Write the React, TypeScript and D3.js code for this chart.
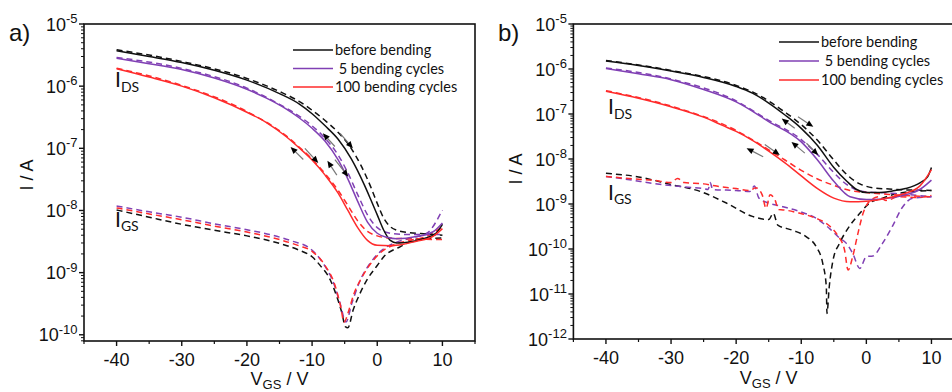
import React from 'react';
import * as d3 from 'd3';

type Pt = [number, number];
type Arrow = [number, number, number, number];

// ---------- Panel a ----------
const aIdsBeforeFwd: Pt[] = [[-40,3.7e-6],[-35,3.0e-6],[-30,2.4e-6],[-25,1.8e-6],[-20,1.25e-6],[-15,7.6e-7],[-12,5.2e-7],[-10,3.6e-7],[-8,2.3e-7],[-6,1.4e-7],[-4,6.8e-8],[-2,2.6e-8],[-1,1.5e-8],[0,8.5e-9],[1,4.8e-9],[2,3.3e-9],[3,3.0e-9],[5,3.1e-9],[7,3.5e-9],[9,4.3e-9],[10,6.0e-9]];
const aIdsBeforeRev: Pt[] = [[-40,3.85e-6],[-30,2.5e-6],[-20,1.33e-6],[-15,8.2e-7],[-12,5.7e-7],[-10,4.1e-7],[-8,2.8e-7],[-6,1.8e-7],[-4,1.0e-7],[-2.5,5.3e-8],[-1,2.4e-8],[0,1.3e-8],[1,7.5e-9],[2,5.5e-9],[3,4.8e-9],[5,4.4e-9],[7.5,4.2e-9],[10,4.0e-9]];
const aIgsBefore: Pt[] = [[-40,1.02e-8],[-35,7.8e-9],[-30,6.0e-9],[-25,4.8e-9],[-20,3.9e-9],[-15,2.95e-9],[-12,2.3e-9],[-10,1.8e-9],[-8.8,1.32e-9],[-7.2,7.6e-10],[-6.2,4.1e-10],[-5.4,2.2e-10],[-4.9,1.35e-10],[-4.5,1.3e-10],[-3.7,2.5e-10],[-2.7,4.5e-10],[-1.6,7.6e-10],[0,1.3e-9],[1,1.8e-9],[3.5,2.6e-9],[6.5,3.5e-9],[10,3.6e-9]];

const aIdsFiveFwd: Pt[] = [[-40,2.8e-6],[-35,2.3e-6],[-30,1.85e-6],[-25,1.35e-6],[-20,8.9e-7],[-17,6.4e-7],[-14,4.3e-7],[-12,3.1e-7],[-10,2.1e-7],[-8,1.3e-7],[-6,6.5e-8],[-4.5,3.2e-8],[-3,1.4e-8],[-1.5,6.5e-9],[0,4.3e-9],[1.5,3.7e-9],[3,3.5e-9],[6,3.8e-9],[8.5,4.5e-9],[10,6.3e-9]];
const aIdsFiveRev: Pt[] = [[-40,2.9e-6],[-30,1.93e-6],[-20,9.3e-7],[-15,5.1e-7],[-12,3.3e-7],[-10,2.3e-7],[-8,1.45e-7],[-6,7.8e-8],[-4.5,4.0e-8],[-3,1.8e-8],[-1.5,8.5e-9],[0,5.3e-9],[2,4.3e-9],[5,4.1e-9],[10,4.1e-9]];
const aIgsFive: Pt[] = [[-40,1.18e-8],[-35,9.5e-9],[-30,7.8e-9],[-25,6.1e-9],[-20,4.9e-9],[-16.5,4.1e-9],[-13,3.2e-9],[-10.3,2.45e-9],[-8.3,1.41e-9],[-6.7,6.8e-10],[-5.7,3.2e-10],[-4.8,1.6e-10],[-3.9,3.2e-10],[-2.6,7.6e-10],[-1.1,1.41e-9],[0.5,2.2e-9],[2.5,2.95e-9],[5,3.55e-9],[7.6,4.3e-9],[10,1.02e-8]];

const aIdsHundredFwd: Pt[] = [[-40,1.9e-6],[-35,1.4e-6],[-30,1.0e-6],[-25,6.5e-7],[-20,3.8e-7],[-17,2.6e-7],[-14,1.55e-7],[-12,1.02e-7],[-10,6.5e-8],[-8,3.7e-8],[-6,1.9e-8],[-4.5,1.0e-8],[-3,5.3e-9],[-1.5,3.3e-9],[0,2.75e-9],[2,2.7e-9],[4,2.85e-9],[6,3.2e-9],[8.5,3.8e-9],[10,5.1e-9]];
const aIdsHundredRev: Pt[] = [[-40,1.95e-6],[-30,1.03e-6],[-20,3.9e-7],[-14,1.6e-7],[-12,1.05e-7],[-10,6.7e-8],[-8,3.9e-8],[-6,2.1e-8],[-4.5,1.2e-8],[-3,6.8e-9],[-1.5,4.6e-9],[0,3.9e-9],[2,3.6e-9],[5,3.5e-9],[10,3.4e-9]];
const aIgsHundred: Pt[] = [[-40,1.1e-8],[-35,8.8e-9],[-30,7.1e-9],[-25,5.6e-9],[-20,4.5e-9],[-15,3.4e-9],[-12,2.7e-9],[-10,2.2e-9],[-8,1.3e-9],[-6.5,6.3e-10],[-5.6,2.8e-10],[-5.1,1.6e-10],[-4.4,2.4e-10],[-3.6,4.5e-10],[-2.5,7.9e-10],[-1,1.4e-9],[0.5,2.1e-9],[2.5,2.8e-9],[5,3.3e-9],[7.5,3.8e-9],[10,5.5e-9]];

const aArrows: Arrow[] = [[-11.35,6.6e-8,-13.3,1.05e-7],[-11.1,1.0e-7,-9.05,5.8e-8],[-6.2,3.7e-8,-7.65,6.3e-8],[-6.5,6.6e-8,-4.45,3.5e-8],[-6.5,1.07e-7,-8.35,1.74e-7],[-5.7,1.74e-7,-3.75,1.0e-7]];

// ---------- Panel b ----------
const bIdsBeforeFwd: Pt[] = [[-40,1.5e-6],[-35,1.2e-6],[-30,9.0e-7],[-25,6.5e-7],[-20,4.1e-7],[-17.5,2.9e-7],[-15,1.75e-7],[-12.5,9.5e-8],[-10,4.8e-8],[-7.5,2.0e-8],[-5,6.5e-9],[-3,3.2e-9],[-1.5,2.1e-9],[0,1.8e-9],[2,1.8e-9],[4,1.95e-9],[6,2.2e-9],[8.3,3.0e-9],[9.4,4.0e-9],[10,6.5e-9]];
const bIdsBeforeRev: Pt[] = [[-40,1.55e-6],[-30,9.3e-7],[-20,4.3e-7],[-17.5,3.1e-7],[-15,1.95e-7],[-12.5,1.1e-7],[-10,5.8e-8],[-7.5,2.6e-8],[-5,9.5e-9],[-3,4.5e-9],[-1,2.8e-9],[1,2.3e-9],[3.5,2.15e-9],[10,2.0e-9]];
const bIgsBefore: Pt[] = [[-40,4.8e-9],[-35,4.0e-9],[-30,2.7e-9],[-25.5,1.9e-9],[-21.5,1.05e-9],[-17.5,5.3e-10],[-15,4.5e-10],[-14.3,6.2e-10],[-13.6,3.4e-10],[-11.3,2.6e-10],[-9.2,1.86e-10],[-7.7,1.12e-10],[-6.7,4.8e-11],[-6.15,1.45e-11],[-6.05,3.7e-12],[-5.7,1.45e-11],[-5.1,5.8e-11],[-4.1,1.35e-10],[-2.6,3.2e-10],[-1,6.2e-10],[0.5,1.05e-9],[2.5,1.35e-9],[5,1.74e-9],[10,2.0e-9]];

const bIdsFiveFwd: Pt[] = [[-40,1.02e-6],[-35,7.8e-7],[-30,5.8e-7],[-25,3.5e-7],[-20,1.86e-7],[-15,6.8e-8],[-10,2.4e-8],[-7.5,9.5e-9],[-5,3.2e-9],[-2.5,1.45e-9],[0,1.26e-9],[2.5,1.3e-9],[5.6,1.55e-9],[8.2,2.1e-9],[10,3.4e-9]];
const bIdsFiveRev: Pt[] = [[-40,1.05e-6],[-30,6.0e-7],[-20,1.95e-7],[-15,7.2e-8],[-10,2.7e-8],[-7.5,1.25e-8],[-5,5.0e-9],[-3,2.7e-9],[-0.5,1.9e-9],[3.5,1.75e-9],[10,1.45e-9]];
const bIgsFive: Pt[] = [[-40,4.1e-9],[-36,3.4e-9],[-33,2.9e-9],[-28,2.4e-9],[-25,2.2e-9],[-24.3,2.1e-9],[-24,3.0e-9],[-23.6,2.1e-9],[-20,2.0e-9],[-17.9,1.9e-9],[-17.2,2.5e-9],[-16.5,1.35e-9],[-15,1.05e-9],[-12.8,8.7e-10],[-10.2,6.8e-10],[-7.7,4.8e-10],[-5.6,2.8e-10],[-4.1,1.74e-10],[-3.1,1.35e-10],[-2.1,8.0e-11],[-1,3.7e-11],[0,6.8e-11],[1,7.0e-11],[2.5,1.35e-10],[4,3.2e-10],[5.6,8.7e-10],[7.1,1.35e-9],[10,1.45e-9]];

const bIdsHundredFwd: Pt[] = [[-40,3.2e-7],[-35,2.24e-7],[-30,1.45e-7],[-25,8.5e-8],[-22,5.5e-8],[-20,4.1e-8],[-17.5,2.6e-8],[-15,1.5e-8],[-12.5,8.2e-9],[-10,4.2e-9],[-7.5,2.2e-9],[-5,1.35e-9],[-2.5,1.12e-9],[0,1.15e-9],[2.5,1.3e-9],[5.5,1.65e-9],[8.2,2.5e-9],[10,5.8e-9]];
const bIdsHundredRev: Pt[] = [[-40,3.3e-7],[-30,1.5e-7],[-20,4.3e-8],[-15,1.6e-8],[-12.5,9.5e-9],[-10,5.6e-9],[-7.5,3.6e-9],[-5,2.6e-9],[-2.5,2.0e-9],[0,1.8e-9],[3,1.65e-9],[10,1.45e-9]];
const bIgsHundred: Pt[] = [[-40,4.1e-9],[-35,3.55e-9],[-33,3.4e-9],[-30,3.0e-9],[-29,3.7e-9],[-28,3.0e-9],[-25,2.8e-9],[-23,2.5e-9],[-20,2.2e-9],[-17.9,2.0e-9],[-17,2.3e-9],[-16,1.6e-9],[-15.4,8.0e-10],[-14.8,1.6e-9],[-14,1.2e-9],[-13.5,7.5e-10],[-12.8,7.4e-10],[-10.2,6.2e-10],[-7.7,4.8e-10],[-5.6,3.2e-10],[-4.4,2.0e-10],[-3.35,9.5e-11],[-2.8,3.4e-11],[-2.1,6.8e-11],[-1.3,2.2e-10],[-0.5,6.2e-10],[0.7,1.23e-9],[2,1.45e-9],[3,1.2e-9],[5,1.45e-9],[8,1.4e-9],[10,1.55e-9]];

const bArrows: Arrow[] = [[-15.85,1.12e-8,-18.4,1.74e-8],[-15.6,2.1e-8,-13.3,1.23e-8],[-9.45,1.35e-8,-11.5,2.4e-8],[-9.2,2.24e-8,-7.4,1.23e-8],[-11,4.8e-8,-13,7.9e-8],[-10.5,8.7e-8,-8.15,5.2e-8]];

// ---------- shared ----------
const xDomain: [number, number] = [-45, 15];
const xTicks = [-40, -30, -20, -10, 0, 10];
const xMinorTicks = [-45, -35, -25, -15, -5, 5, 15];
const aDecades = [-10, -9, -8, -7, -6, -5];
const bDecades = [-12, -11, -10, -9, -8, -7, -6, -5];
const legendLabels = ['before bending', ' 5 bending cycles', '100 bending cycles'];
const seriesColors = ['#111111', '#8040B4', '#FF2B2B'];

const FONT = "'Liberation Sans', Arial, sans-serif";
const LFONT = "Lato, 'Open Sans', sans-serif";

interface Cfg {
  left: number; right: number; top: number; bottom: number; yMin: number;
  decades: number[];
  series: { fwd: Pt[]; rev: Pt[]; igs: Pt[] }[];
  arrows: Arrow[];
  tag: string; tagX: number;
  yTitleX: number; yTitleY: number; xTitleY: number;
  legX: number; legY: number; legGap: number;
  idsX: number; idsY: number; igsX: number; igsY: number;
}

function Panel({ c }: { c: Cfg }) {
  const x = d3.scaleLinear().domain(xDomain).range([c.left, c.right]);
  const y = d3.scaleLog().domain([c.yMin, 1e-5]).range([c.bottom, c.top]);
  const line = d3.line<Pt>().x(d => x(d[0])).y(d => y(d[1])).curve(d3.curveMonotoneX);
  const minor: number[] = [];
  for (let e = Math.floor(Math.log10(c.yMin)); e < -5; e++) {
    for (let k = 2; k <= 9; k++) {
      const v = k * Math.pow(10, e);
      if (v >= c.yMin && v < 1e-5) minor.push(v);
    }
  }
  const cx = (c.left + c.right) / 2;
  return (
    <g>
      {c.series.map((s, i) => (
        <path key={'g' + i} d={line(s.igs) || ''} fill="none" stroke={seriesColors[i]} strokeWidth={1.5} strokeDasharray="6 4" />
      ))}
      {c.series.map((s, i) => (
        <path key={'r' + i} d={line(s.rev) || ''} fill="none" stroke={seriesColors[i]} strokeWidth={1.5} strokeDasharray="6 4" />
      ))}
      {c.series.map((s, i) => (
        <path key={'f' + i} d={line(s.fwd) || ''} fill="none" stroke={seriesColors[i]} strokeWidth={1.5} />
      ))}
      {c.arrows.map((a, i) => {
        const x1 = x(a[0]), y1 = y(a[1]), x2 = x(a[2]), y2 = y(a[3]);
        const ang = Math.atan2(y2 - y1, x2 - x1);
        const L = 7, W = 3;
        const bx = x2 - L * Math.cos(ang), by = y2 - L * Math.sin(ang);
        const px = -Math.sin(ang) * W, py = Math.cos(ang) * W;
        return (
          <g key={'a' + i}>
            <line x1={x1} y1={y1} x2={bx} y2={by} stroke="#777" strokeWidth={1.2} />
            <path d={`M${x2},${y2}L${bx + px},${by + py}L${bx - px},${by - py}Z`} fill="#000" />
          </g>
        );
      })}
      <rect x={c.left} y={c.top} width={c.right - c.left} height={c.bottom - c.top} fill="none" stroke="#111" strokeWidth={1.6} />
      {xTicks.map(t => (
        <g key={'xt' + t}>
          <line x1={x(t)} x2={x(t)} y1={c.bottom} y2={c.bottom + 5} stroke="#111" strokeWidth={1.4} />
          <text x={x(t)} y={c.bottom + 25} textAnchor="middle" fontFamily={FONT} fontSize={18} fill="#111">{t}</text>
        </g>
      ))}
      {xMinorTicks.map(t => (
        <line key={'xm' + t} x1={x(t)} x2={x(t)} y1={c.bottom} y2={c.bottom + 3} stroke="#111" strokeWidth={1.2} />
      ))}
      {c.decades.map(e => (
        <g key={'yt' + e}>
          <line x1={c.left - 5} x2={c.left} y1={y(Math.pow(10, e))} y2={y(Math.pow(10, e))} stroke="#111" strokeWidth={1.4} />
          <text x={c.left - 6.5} y={y(Math.pow(10, e)) + 6.5} textAnchor="end" fontFamily={FONT} fontSize={18} fill="#111">
            10<tspan fontSize={13} dy={-7.5}>{e}</tspan>
          </text>
        </g>
      ))}
      {minor.map((v, i) => (
        <line key={'ym' + i} x1={c.left - 3} x2={c.left} y1={y(v)} y2={y(v)} stroke="#111" strokeWidth={1} />
      ))}
      <text x={c.tagX} y={41} fontFamily={FONT} fontSize={24} fill="#111">{c.tag}</text>
      <text transform={`translate(${c.yTitleX},${c.yTitleY}) rotate(-90)`} textAnchor="middle" fontFamily={FONT} fontSize={18} fill="#111">I / A</text>
      <text x={cx} y={c.xTitleY} textAnchor="middle" fontFamily={FONT} fontSize={18} fill="#111">
        V<tspan fontSize={13} dy={4}>GS</tspan><tspan dy={-4}> / V</tspan>
      </text>
      {legendLabels.map((l, i) => (
        <g key={'lg' + i}>
          <line x1={c.legX} x2={c.legX + 40} y1={c.legY + i * c.legGap} y2={c.legY + i * c.legGap} stroke={seriesColors[i]} strokeWidth={1.5} />
          <text x={c.legX + 42} y={c.legY + i * c.legGap + 5} fontFamily={LFONT} fontSize={14.5} fill="#111" style={{ whiteSpace: 'pre' }}>{l}</text>
        </g>
      ))}
      <text x={c.idsX} y={c.idsY} fontFamily={LFONT} fontSize={21} fill="#111">I<tspan fontSize={14} dy={5}>DS</tspan></text>
      <text x={c.igsX} y={c.igsY} fontFamily={LFONT} fontSize={21} fill="#111">I<tspan fontSize={14} dy={4}>GS</tspan></text>
    </g>
  );
}

const panelA: Cfg = {
  left: 84, right: 475, top: 24, bottom: 341, yMin: Math.pow(10, -10.1),
  decades: aDecades,
  series: [
    { fwd: aIdsBeforeFwd, rev: aIdsBeforeRev, igs: aIgsBefore },
    { fwd: aIdsFiveFwd, rev: aIdsFiveRev, igs: aIgsFive },
    { fwd: aIdsHundredFwd, rev: aIdsHundredRev, igs: aIgsHundred },
  ],
  arrows: aArrows,
  tag: 'a)', tagX: 9,
  yTitleX: 33, yTitleY: 175, xTitleY: 385,
  legX: 293, legY: 50, legGap: 18.5,
  idsX: 115, idsY: 87, igsX: 115, igsY: 227,
};

const panelB: Cfg = {
  left: 573.4, right: 964, top: 24, bottom: 339, yMin: 1e-12,
  decades: bDecades,
  series: [
    { fwd: bIdsBeforeFwd, rev: bIdsBeforeRev, igs: bIgsBefore },
    { fwd: bIdsFiveFwd, rev: bIdsFiveRev, igs: bIgsFive },
    { fwd: bIdsHundredFwd, rev: bIdsHundredRev, igs: bIgsHundred },
  ],
  arrows: bArrows,
  tag: 'b)', tagX: 498,
  yTitleX: 522, yTitleY: 169, xTitleY: 384,
  legX: 779, legY: 42, legGap: 19,
  idsX: 608, idsY: 114, igsX: 608, igsY: 200,
};

export default function App() {
  return (
    <svg width={952} height={392} style={{ position: 'absolute', left: 0, top: 0, background: '#fff' }}>
      <rect x={0} y={0} width={952} height={392} fill="#fff" />
      <Panel c={panelA} />
      <Panel c={panelB} />
    </svg>
  );
}
